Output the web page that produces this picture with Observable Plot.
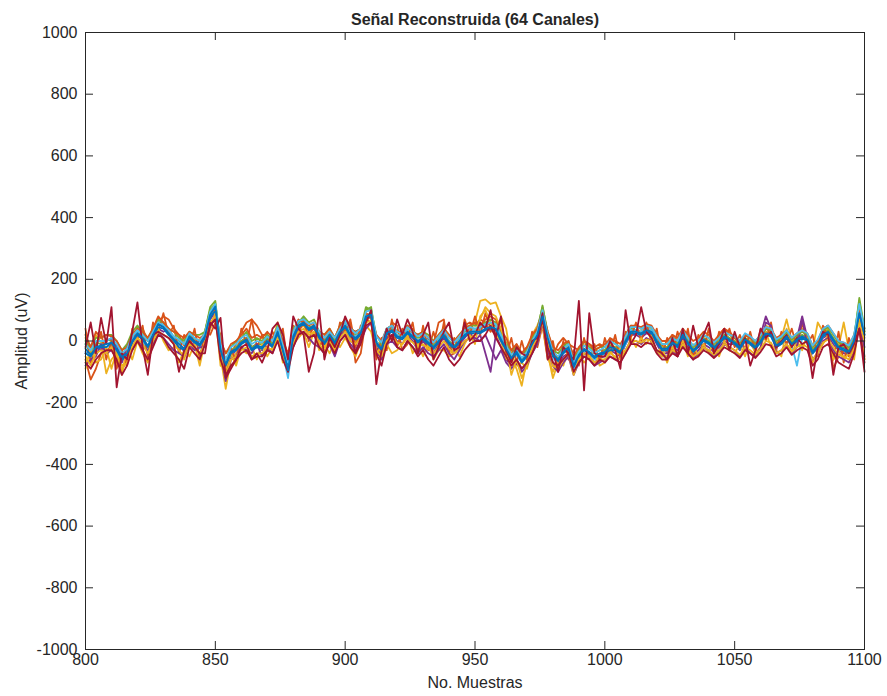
<!DOCTYPE html>
<html>
<head>
<meta charset="utf-8">
<script src="https://cdn.jsdelivr.net/npm/d3@7"></script>
<script src="https://cdn.jsdelivr.net/npm/@observablehq/plot@0.6"></script>
<style>
  html, body { margin: 0; padding: 0; background: #fff; }
  #chart svg { display: block; }
</style>
</head>
<body>
<div id="chart"></div>
<script>
const sampleStart = 800, sampleEnd = 1100, sampleStep = 2;
const xTicks = [800, 850, 900, 950, 1000, 1050, 1100];
const yTicks = [-1000, -800, -600, -400, -200, 0, 200, 400, 600, 800, 1000];
const titleText = "Señal Reconstruida (64 Canales)";
const xLabel = "No. Muestras";
const yLabel = "Amplitud (uV)";

const chOrange1 = [-60,-125,-90,-40,-30,-20,-70,-95,-60,-20,10,40,0,10,60,80,70,40,20,-15,5,-20,-40,-10,40,
  90,-20,-60,-40,-10,30,60,70,50,20,20,0,40,-20,-50,10,40,50,30,40,10,-20,0,-30,20,
  40,60,-70,-40,70,60,-40,-50,0,60,50,-30,-10,40,-20,-30,10,-10,60,70,-50,-40,-20,50,60,
  50,70,60,30,60,20,-20,-40,-10,-40,-20,-40,0,60,-20,-50,-10,10,-10,-20,-30,0,-10,-20,-10,
  -20,10,0,-50,10,30,50,40,50,20,10,-10,-40,20,-10,30,10,-50,-10,20,10,-10,20,40,20,
  10,-10,20,10,-10,10,40,30,0,10,30,0,20,30,20,-20,0,40,50,-90,-50,-30,-50,-20,70,-60];
const chYellow1 = [10,-30,20,-5,-105,-60,-40,-80,-70,-10,40,20,-40,30,70,60,30,-10,-30,-60,0,10,-20,30,100,
  100,-50,-155,-60,-40,-10,10,-30,-10,-30,10,0,60,-20,-60,20,40,50,30,20,0,-20,10,-10,30,
  40,10,0,20,90,70,-10,-40,30,40,20,20,40,10,-10,0,-20,-30,10,30,-10,-30,10,30,40,
  60,130,135,120,125,80,40,-60,-90,-145,-60,20,50,90,-40,-120,-70,-30,-10,-90,-60,-40,-40,-60,-50,
  -30,-10,-20,-40,10,40,35,30,45,40,10,-20,-20,0,-10,30,0,-30,-10,10,0,-20,0,20,10,
  0,-20,10,0,-20,10,50,40,-10,10,70,0,20,40,20,-30,60,30,40,0,-20,60,-30,0,95,30];
const chPurple1 = [-40,-30,-10,-30,0,10,-30,-60,-20,10,30,0,-40,0,40,30,40,10,0,-35,20,-10,0,10,70,
  95,-20,-100,-50,-30,0,10,-20,-10,-30,10,-10,20,-40,-70,0,40,55,45,40,20,0,10,-20,20,
  30,0,-10,10,70,80,-20,-50,10,20,0,-10,20,0,-30,0,-20,-40,-10,10,-20,-40,-10,10,30,
  0,20,-40,-100,20,-20,-60,-80,-60,-90,-70,-30,0,70,-10,-70,-90,-50,-40,-100,-60,-40,-50,-70,-55,
  -50,-30,-40,-50,-10,20,20,10,25,20,-10,-40,-40,-20,-30,10,-20,-45,-30,-10,-20,-35,-20,0,-10,
  -10,-30,0,-10,-30,20,80,40,-20,0,10,-20,10,80,10,-40,-20,10,20,-10,-30,-40,-40,-10,80,10];
const chGreen1 = [-10,-40,-5,-10,5,0,-15,-40,-30,20,40,20,0,30,60,50,20,10,0,-10,20,10,0,30,110,
  130,-20,-60,-30,-20,0,10,-20,-10,-10,10,-10,35,-20,-70,20,55,70,45,50,25,0,25,0,35,
  60,30,20,30,100,110,0,-20,30,40,20,10,35,20,10,15,0,-15,5,25,0,-15,5,30,40,
  40,40,50,60,50,20,-10,-45,-20,-60,-30,0,30,115,20,-40,-55,-25,-10,-70,-40,-15,-25,-40,-30,
  -30,-15,-20,-30,10,40,35,30,40,35,5,-20,-20,0,-10,25,0,-25,-10,10,0,-15,0,20,10,
  0,-15,10,0,-15,5,30,25,-10,0,20,-5,10,20,10,-30,-10,25,35,10,-15,-20,-30,5,140,40];
const chLightBlue1 = [-35,-55,-30,-10,-20,-15,-35,-60,-50,5,30,0,-30,15,70,55,30,15,-5,-30,10,-5,-25,10,80,
  100,-40,-90,-40,-30,-10,0,-30,-20,-25,-5,-20,25,-40,-120,10,50,75,40,45,10,-10,15,-10,25,
  55,25,15,30,85,90,0,-30,30,45,20,15,35,20,0,15,0,-25,5,25,-5,-25,5,25,35,
  35,40,50,60,55,10,-20,-60,-45,-70,-50,-15,25,95,5,-55,-70,-40,-25,-95,-50,-30,-40,-60,-50,
  -40,-25,-30,-40,-10,35,35,30,45,35,0,-30,-30,-10,-20,25,-10,-35,-20,5,-10,-25,-10,15,0,
  -10,-25,0,-10,-25,-5,20,15,-20,-10,10,-15,-80,10,0,-40,-20,15,25,0,-25,-30,-40,-5,110,30];
const chOrange3 = [40,-70,-20,30,-60,0,-90,-30,-80,40,0,50,-50,60,30,90,20,50,-40,20,-20,40,-60,30,20,
  60,20,-100,-20,-70,40,-10,70,-20,20,-30,30,0,40,-80,50,20,70,0,60,-20,10,30,-30,60,
  30,70,-20,50,60,90,-60,10,-30,70,-20,40,10,60,-40,50,-30,30,-30,60,-40,10,-30,70,20,
  80,20,90,40,20,70,-50,10,-70,0,-60,30,-20,50,-60,0,-90,0,-60,-30,-80,10,-60,-10,-70,
  10,-40,20,-60,30,10,60,0,60,-10,40,-50,10,-40,30,-20,40,-60,20,-30,40,-40,30,0,40,
  -20,20,-30,30,-40,40,0,60,-30,30,-10,40,-20,60,-10,20,-50,50,10,-60,30,-70,10,-40,60,-50];
const chYellow3 = [-90,-20,-70,-60,-20,-90,-30,-110,-20,-60,0,-40,-70,-10,40,0,-30,-20,-70,-30,-50,-10,-80,0,40,
  90,-80,-90,-40,-80,-20,-40,-20,-60,-10,-50,-20,20,-70,-60,-10,10,30,-20,30,-30,-10,-40,0,-20,
  10,-20,-50,0,50,30,-40,-20,-10,-40,-30,-10,20,-40,-10,-50,-10,-60,-30,-30,-50,-20,-50,-10,20,
  -10,80,100,60,20,0,-60,-40,-80,-70,-90,-30,-10,50,-50,-100,-60,-80,-30,-70,-40,-70,-50,-30,-80,
  -70,-30,-60,-20,-40,10,-20,10,-10,20,-40,-20,-70,-20,-50,0,-50,-10,-50,-10,-40,0,-50,0,-30,
  -40,-10,-50,0,-40,-20,30,-20,-30,-50,40,-40,0,-30,20,-70,-30,-10,20,-60,-30,-60,-40,-60,70,-60];
const chPurple2 = [-80,-60,-50,-10,-40,-30,-10,-70,-20,-30,10,-20,-30,-10,30,10,-10,-30,-40,-50,-10,-30,-20,-20,50,
  80,-40,-130,-60,-50,-20,-30,-40,-10,-50,-20,-40,10,-60,-60,-20,20,30,10,-10,-20,-40,-10,-50,0,
  20,-10,-30,0,40,60,-30,-60,-10,0,-20,-30,0,-20,-40,-20,-40,-50,-30,-10,-40,-60,-30,0,10,
  10,0,20,-20,-60,-30,-70,-90,-70,-100,-80,-40,-10,60,-30,-80,-100,-70,-50,-110,-70,-50,-60,-80,-70,
  -60,-50,-60,-70,-30,0,0,-10,10,0,-30,-50,-50,-30,-50,-10,-40,-60,-40,-20,-30,-50,-30,-10,-20,
  -30,-50,-20,-40,-50,-20,60,50,-40,-30,-10,-40,-20,70,-10,-60,-40,0,10,-30,-50,-60,-70,-30,50,-20];
const chGreen2 = [0,-20,10,10,20,20,0,-30,-10,30,50,30,10,40,70,60,40,30,10,0,30,20,20,30,100,
  120,0,-40,-20,0,10,30,0,10,0,20,0,50,0,-50,40,60,80,60,70,30,20,40,10,50,
  70,40,30,40,110,100,20,-10,40,50,30,30,50,30,20,30,20,0,20,40,20,0,20,40,50,
  50,50,60,70,60,30,-5,-30,-20,-40,-30,10,40,110,30,-30,-40,-20,0,-60,-30,0,-20,-30,-20,
  -20,0,-10,-20,20,50,45,40,50,45,20,-10,-10,10,0,35,10,-20,0,20,10,-10,10,30,20,
  10,-5,20,10,-5,15,40,35,0,10,30,5,20,30,20,-20,0,35,45,20,-5,-10,-20,15,130,30];
const chBlue2 = [-40,-50,-25,-20,-20,-5,-30,-60,-45,-5,20,5,-20,15,45,40,20,0,-20,-30,10,-5,-15,10,75,
  100,-35,-80,-40,-30,-10,0,-30,-20,-25,-5,-20,25,-35,-80,10,45,55,35,45,10,-10,15,-10,25,
  45,15,5,20,75,80,-10,-30,20,30,10,5,25,10,-5,5,-10,-25,-5,15,-10,-25,-5,15,25,
  25,25,35,40,35,0,-30,-60,-40,-70,-50,-15,15,85,5,-50,-65,-40,-25,-85,-50,-30,-40,-55,-45,
  -40,-30,-30,-40,-5,25,25,20,30,25,-5,-30,-30,-10,-20,15,-10,-35,-20,0,-10,-25,-10,10,0,
  -10,-25,0,-10,-25,-5,20,15,-20,-10,10,-15,0,10,0,-40,-20,15,25,0,-25,-30,-40,-5,100,20];
const chOrange2 = [20,-20,30,10,20,15,0,-30,-20,20,40,30,10,40,80,60,40,30,20,10,30,20,10,20,90,
  105,0,-40,-10,0,20,40,10,20,10,30,10,40,0,-40,30,70,60,50,60,30,20,40,10,50,
  70,40,30,40,90,80,20,0,40,50,30,30,50,30,20,30,10,0,20,40,20,0,20,40,50,
  60,50,70,80,70,35,10,-30,-10,-40,-20,20,40,95,30,-20,-30,-10,0,-50,-20,0,-10,-30,-20,
  -10,5,0,-10,20,50,50,45,55,50,20,0,0,20,10,40,20,0,10,30,20,0,20,40,30,
  10,0,20,10,0,20,45,40,10,20,35,10,25,35,25,-15,0,40,50,25,0,-5,-15,20,100,40];
const chYellow2 = [-50,-80,-40,-30,-40,-20,-50,-90,-70,-20,10,-10,-40,0,30,20,10,-10,-30,-50,-10,-20,-40,-10,60,
  80,-50,-110,-60,-50,-30,-20,-50,-40,-40,-20,-30,10,-50,-90,-10,30,40,20,30,-10,-30,0,-30,10,
  30,0,-10,10,60,65,-30,-50,0,15,-5,-10,10,-5,-20,-10,-25,-40,-20,0,-25,-40,-20,0,10,
  20,70,110,90,80,40,-10,-110,-60,-120,-80,-20,10,60,-10,-80,-90,-60,-40,-110,-60,-40,-50,-70,-60,
  -60,-40,-50,-60,-30,0,0,-5,5,0,-30,-50,-50,-30,-40,-10,-30,-50,-40,-20,-30,-45,-30,-10,-20,
  -30,-45,-20,-30,-45,-25,0,-5,-40,-30,-10,-35,-20,-10,-20,-60,-40,-5,5,-20,-45,-50,-60,-25,60,0];
const chDarkRed2 = [-70,-90,-60,-40,-30,-30,-60,-110,-80,-30,0,-30,-60,-20,20,10,-20,-40,-60,-90,-20,-40,-60,-10,50,
  70,-60,-110,-80,-60,-40,-30,-60,-50,-50,-30,-40,0,-60,-100,-20,20,30,10,20,-20,-40,-10,-40,0,
  20,-20,-40,-10,50,60,-40,-80,-10,20,-20,-30,0,-20,-50,-30,-60,-80,-50,-20,-60,-80,-60,-30,-10,
  0,0,20,50,10,-20,-50,-80,-60,-90,-70,-40,0,70,-20,-70,-80,-60,-40,-100,-70,-50,-60,-80,-60,
  -70,-50,-60,-70,-40,-10,-10,-20,-5,-10,-40,-60,-60,-40,-50,-20,-40,-60,-50,-30,-40,-55,-40,-20,-30,
  -40,-55,-30,-40,-55,-35,-10,-15,-50,-40,-20,-45,-30,-20,-30,-80,-60,-20,-10,-40,-70,-80,-90,-40,40,-70];
const chLightBlue2 = [-10,-30,0,0,0,10,-10,-40,-25,15,35,20,0,30,60,50,35,15,5,-10,25,10,0,25,95,
  120,-10,-60,-20,-10,10,20,-10,0,-5,15,0,45,-15,-70,30,65,70,55,60,30,10,30,10,40,
  65,40,25,40,95,100,15,-5,40,50,30,25,45,30,15,25,10,-5,15,35,10,-5,15,35,45,
  40,45,55,60,55,20,-15,-45,-30,-55,-35,0,30,100,20,-35,-50,-25,-10,-70,-35,-15,-25,-40,-30,
  -20,0,-10,-20,15,45,45,40,50,45,15,-10,-10,10,0,35,10,-15,0,20,10,-5,10,30,20,
  15,0,25,15,0,20,45,40,5,15,35,10,25,35,25,-15,5,40,50,25,0,-5,-15,20,120,40];
const chDarkRed1 = [-20,60,-40,75,-10,110,-150,-40,-60,30,125,-20,-110,20,30,20,10,-10,-100,-30,0,-20,-40,-40,60,
  40,75,-120,-90,-60,-20,-10,-60,-40,-70,-30,40,60,20,-60,80,40,20,-100,-40,100,-60,10,-20,20,
  80,40,-40,10,60,100,-140,-30,40,0,70,20,70,30,-40,20,60,-60,-20,30,60,-30,-20,60,0,
  20,60,40,100,10,80,-30,-70,-20,-40,-50,0,10,90,-60,-30,-100,-20,-40,-60,130,-160,90,-40,-50,
  -50,0,-30,-90,100,-10,20,110,30,10,-30,-40,-60,10,-50,40,-40,50,-20,20,60,-40,-10,40,-30,
  30,-20,10,-80,-30,40,10,30,-20,0,20,-20,10,-10,0,-120,-20,30,20,-110,-20,-10,-40,-10,40,-100];
const chBlue1 = [-25,-45,-20,-15,-10,-5,-25,-52,-40,0,25,10,-15,20,55,45,25,5,-10,-25,15,0,-10,15,85,
  112,-30,-75,-35,-25,-5,5,-25,-15,-20,0,-15,30,-30,-95,15,50,60,40,50,15,-5,20,-5,30,
  50,20,10,25,80,85,-5,-25,25,35,15,10,30,15,0,10,-5,-20,0,20,-5,-20,0,20,30,
  30,30,40,45,40,5,-25,-55,-35,-65,-45,-10,20,80,10,-45,-60,-35,-20,-80,-45,-25,-35,-50,-40,
  -35,-20,-25,-35,0,30,30,25,35,30,0,-25,-25,-5,-15,20,-5,-30,-15,5,-5,-20,-5,15,5,
  -5,-20,5,-5,-20,0,25,20,-15,-5,15,-10,5,15,5,-35,-15,20,30,5,-20,-25,-35,0,90,20];

// drawing order (MATLAB colour cycle, last channel on top)
const channelValues = [chOrange1, chYellow1, chPurple1, chGreen1, chLightBlue1, chOrange3, chYellow3,
                       chPurple2, chGreen2, chBlue2, chOrange2, chYellow2, chDarkRed2, chLightBlue2,
                       chDarkRed1, chBlue1];
// styles kept separate
const channelColors = ["#D95319","#EDB120","#7E2F8E","#77AC30","#4DBEEE","#D95319","#EDB120",
                       "#7E2F8E","#77AC30","#0072BD","#D95319","#EDB120","#A2142F","#4DBEEE",
                       "#A2142F","#0072BD"];

const samples = d3.range(sampleStart, sampleEnd + 1, sampleStep);
const rows = [];
channelValues.forEach((vals, c) => {
  vals.forEach((v, i) => rows.push({sample: samples[i], amp: v, ch: "ch" + c, color: channelColors[c]}));
});

const W = 887, H = 696;
const mL = 85, mR = 23, mT = 32, mB = 47;
const fw = W - mL - mR, fh = H - mT - mB;
const tickLen = 8;
const axisColor = "#262626";

const chart = Plot.plot({
  width: W, height: H,
  marginLeft: mL, marginRight: mR, marginTop: mT, marginBottom: mB,
  style: {fontFamily: "'Liberation Sans', Arial, sans-serif", fontSize: "16px", color: axisColor, background: "#fff"},
  x: {domain: [800, 1100]},
  y: {domain: [-1000, 1000]},
  color: {type: "identity"},
  marks: [
    Plot.line(rows, {x: "sample", y: "amp", z: "ch", stroke: "color", strokeWidth: 1.8, curve: "linear", strokeLinejoin: "round"}),
    Plot.frame({stroke: axisColor, strokeWidth: 1}),
    Plot.ruleX(xTicks, {x: d => d, insetTop: fh - tickLen, stroke: axisColor}),
    Plot.ruleX(xTicks, {x: d => d, insetBottom: fh - tickLen, stroke: axisColor}),
    Plot.ruleY(yTicks, {y: d => d, insetRight: fw - tickLen, stroke: axisColor}),
    Plot.ruleY(yTicks, {y: d => d, insetLeft: fw - tickLen, stroke: axisColor}),
    Plot.axisX({ticks: xTicks, tickSize: 0, tickPadding: 4, tickFormat: d => String(d), label: xLabel, labelAnchor: "center", labelArrow: "none", labelOffset: 38}),
    Plot.axisY({ticks: yTicks, tickSize: 0, tickPadding: 8, tickFormat: d => String(d), label: yLabel, labelAnchor: "center", labelArrow: "none", labelOffset: 70}),
    Plot.text([titleText], {text: d => d, frameAnchor: "top", dy: -13, fontWeight: "bold", fontSize: 16, lineAnchor: "middle"})
  ]
});
document.getElementById("chart").appendChild(chart);
</script>
</body>
</html>
